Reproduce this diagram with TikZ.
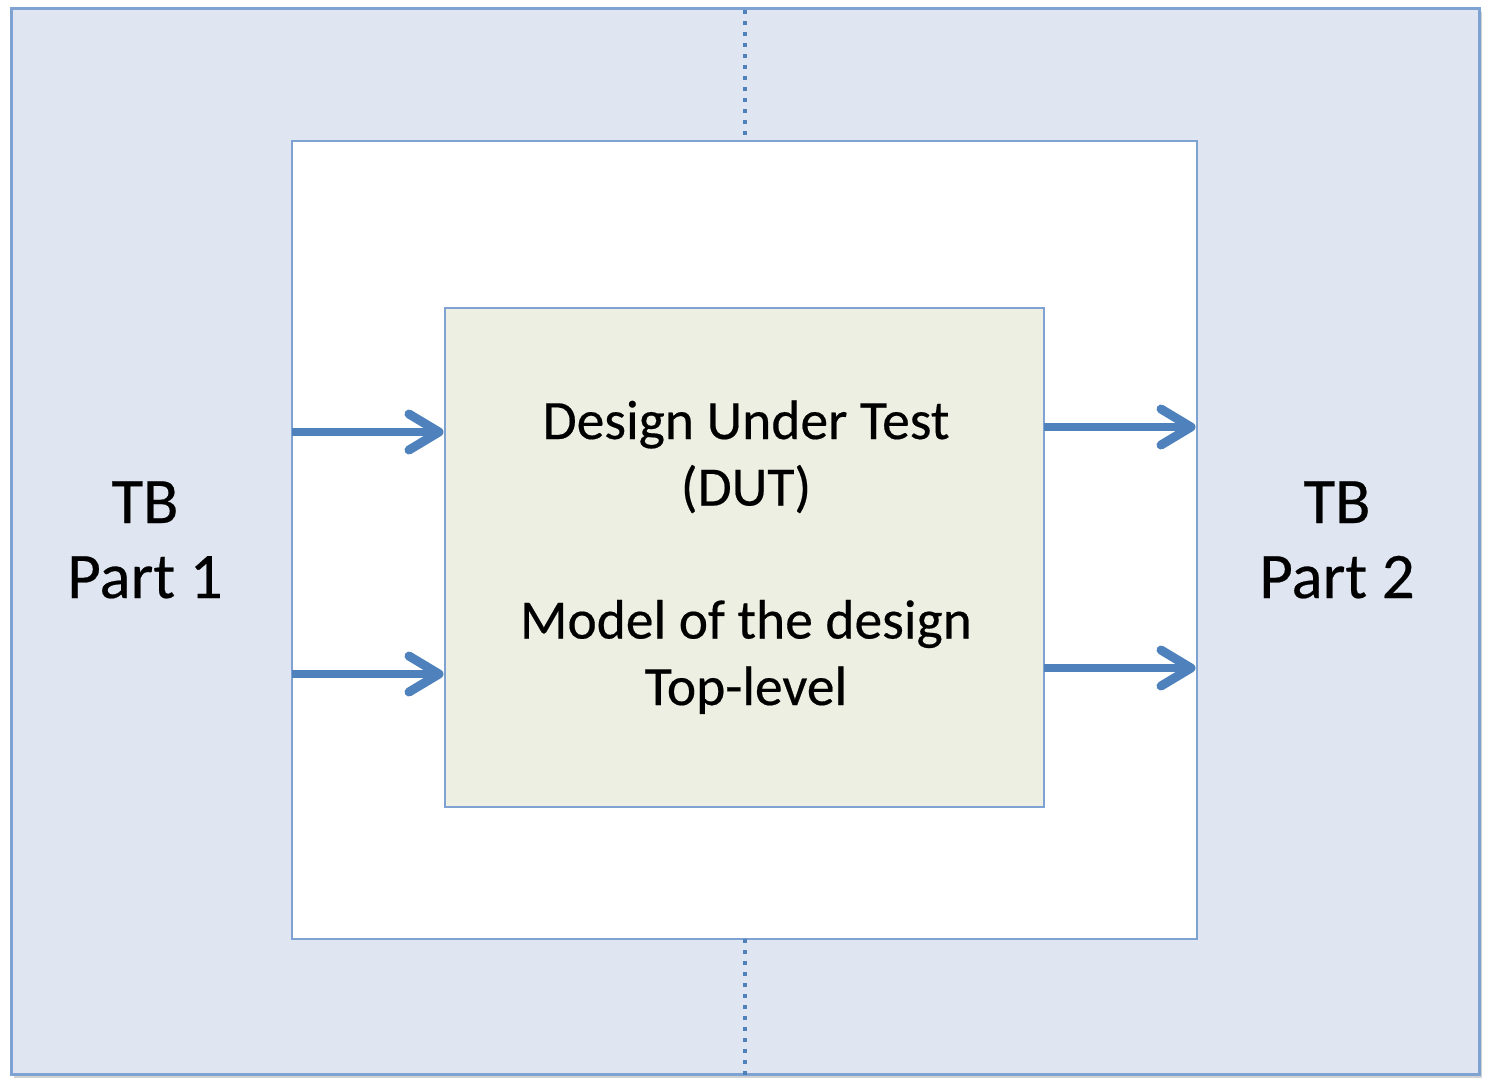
\documentclass[tikz,border=0pt]{standalone}
\usepackage{fontspec}
\setmainfont{Carlito}[FakeBold=0.35]
\definecolor{outerfill}{HTML}{DFE6F1}
\definecolor{boxline}{HTML}{7EA3D3}
\definecolor{dutfill}{HTML}{ECEFE1}
\definecolor{arrblue}{HTML}{4F81BD}
\tikzset{
  boxstyle/.style={draw=boxline, rectangle, inner sep=0pt, outer sep=0pt},
  shaft/.style={draw=arrblue, line width=8pt},
  chev/.style={draw=arrblue, line width=9pt, line cap=round, line join=round},
  dotline/.style={draw=arrblue, line width=4pt, dash pattern=on 4pt off 7pt},
  dutlabel/.style={font=\fontsize{55.5}{66.5}\selectfont, align=center, inner sep=0pt, anchor=base},
  tblabel/.style={font=\fontsize{65}{75}\selectfont, align=center, inner sep=0pt, anchor=base}
}
\begin{document}
\begin{tikzpicture}[x=1pt,y=-1pt]
\useasboundingbox (0,0) rectangle (1488,1080);
% shadow
\fill[black!18] (14,12) rectangle (1482,1078);
\node[boxstyle, fill=outerfill, line width=3pt, minimum width=1468pt, minimum height=1066pt] (outer) at (745,541) {};
\node[boxstyle, fill=white, line width=2pt, minimum width=905pt, minimum height=798pt] (inner) at (744.5,540) {};
\node[boxstyle, fill=dutfill, line width=2pt, minimum width=599pt, minimum height=499pt] (dut) at (744.5,557.5) {};
% dotted separators
\draw[dotline] (outer.north -| inner.north) ++(0,2) -- (inner.north);
\draw[dotline] (inner.south) -- ([yshift=-2pt]outer.south -| inner.south);
% arrows
\coordinate (a1) at (0,432);
\coordinate (a2) at (0,674);
\coordinate (b1) at (0,427);
\coordinate (b2) at (0,668);
\coordinate (t1) at ([xshift=-6pt]dut.west |- a1);
\coordinate (t2) at ([xshift=-6pt]dut.west |- a2);
\coordinate (t3) at ([xshift=-6pt]inner.east |- b1);
\coordinate (t4) at ([xshift=-6pt]inner.east |- b2);
\draw[shaft] (inner.west |- a1) -- ([xshift=-4pt]t1);
\draw[shaft] (inner.west |- a2) -- ([xshift=-4pt]t2);
\draw[shaft] (dut.east |- b1) -- ([xshift=-4pt]t3);
\draw[shaft] (dut.east |- b2) -- ([xshift=-4pt]t4);
\foreach \t in {t1,t2,t3,t4}
  \draw[chev] ([shift={(-30,-18)}]\t) -- (\t) -- ([shift={(-30,18)}]\t);
% labels
\node[dutlabel] (dutt) at (746,705) {Design Under Test\\(DUT)\\ \\Model of the design\\Top-level};
\node[tblabel] (tb1) at (145,598) {TB\\Part 1};
\node[tblabel] (tb2) at (1337,598) {TB\\Part 2};
\end{tikzpicture}
\end{document}
